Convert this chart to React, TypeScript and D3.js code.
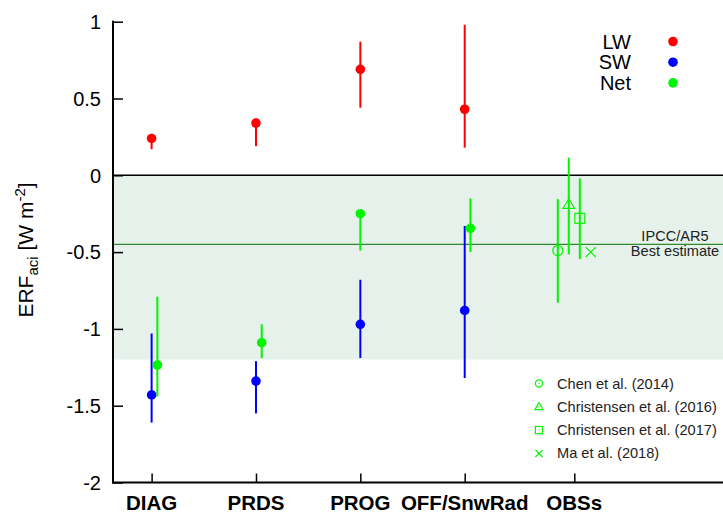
import React, { useEffect, useRef } from 'react'
import * as d3 from 'd3'

// categories on the x axis (OBSs sits slightly to the right)
const categories = ['DIAG', 'PRDS', 'PROG', 'OFF/SnwRad', 'OBSs']
const catPos = [1, 2, 3, 4, 5.05]

// model estimates: LW, SW, Net with their ranges
const lw = [0.24, 0.34, 0.69, 0.43]
const lwLo = [0.17, 0.19, 0.44, 0.18]
const lwHi = [0.27, 0.37, 0.87, 0.98]
const sw = [-1.43, -1.34, -0.97, -0.88]
const swLo = [-1.61, -1.55, -1.19, -1.32]
const swHi = [-1.03, -1.21, -0.68, -0.33]
const net = [-1.235, -1.09, -0.25, -0.345]
const netLo = [-1.44, -1.19, -0.49, -0.5]
const netHi = [-0.79, -0.97, -0.23, -0.15]
const netShift = [0.055, 0.055, 0, 0.055]

// observational estimates
const obsNames = ['Chen et al. (2014)', 'Christensen et al. (2016)', 'Christensen et al. (2017)', 'Ma et al. (2018)']
const obsVal = [-0.49, -0.19, -0.28, -0.5]
const obsLo = [-0.83, -0.515, -0.545, null]
const obsHi = [-0.155, 0.115, -0.02, null]
const obsSym = ['circle', 'triangle', 'square', 'cross']
const obsShift = [-0.158, -0.053, 0.053, 0.158]

const yTicks = [1, 0.5, 0, -0.5, -1, -1.5, -2]
const ipccBest = -0.45
const ipccRange = [-1.2, 0]

const font = 'Liberation Sans, Arial, Helvetica, sans-serif'
const green = '#00f500'

function drawSymbol(g: any, type: string, cx: number, cy: number, s: number, color: string) {
  if (type === 'circle') {
    g.append('circle').attr('cx', cx).attr('cy', cy).attr('r', s).attr('fill', 'none').attr('stroke', color).attr('stroke-width', 1.2)
  } else if (type === 'triangle') {
    const h = s * 1.9
    g.append('path')
      .attr('d', `M${cx},${cy - h * 0.6}L${cx + s * 1.15},${cy + h * 0.4}L${cx - s * 1.15},${cy + h * 0.4}Z`)
      .attr('fill', 'none').attr('stroke', color).attr('stroke-width', 1.2)
  } else if (type === 'square') {
    g.append('rect').attr('x', cx - s).attr('y', cy - s).attr('width', 2 * s).attr('height', 2 * s)
      .attr('fill', 'none').attr('stroke', color).attr('stroke-width', 1.2)
  } else {
    g.append('path')
      .attr('d', `M${cx - s},${cy - s}L${cx + s},${cy + s}M${cx - s},${cy + s}L${cx + s},${cy - s}`)
      .attr('stroke', color).attr('stroke-width', 1.2)
  }
  if (type !== 'cross') {
    g.append('circle').attr('cx', cx).attr('cy', cy).attr('r', 0.7).attr('fill', color)
  }
}

export default function App() {
  const ref = useRef<SVGSVGElement>(null)

  useEffect(() => {
    const svg = d3.select(ref.current)
    svg.selectAll('*').remove()

    const x = d3.scaleLinear().domain([0.63, 6.475]).range([113, 723])
    const y = d3.scaleLinear().domain([-2, 1]).range([482.5, 21.7])

    // IPCC AR5 range shading
    svg.append('rect')
      .attr('x', x(0.63)).attr('width', x(6.475) - x(0.63))
      .attr('y', y(ipccRange[1])).attr('height', y(ipccRange[0]) - y(ipccRange[1]))
      .attr('fill', '#e7f1ec')

    // zero line + best estimate
    svg.append('line').attr('x1', 113).attr('x2', 723).attr('y1', y(0)).attr('y2', y(0))
      .attr('stroke', '#000').attr('stroke-width', 1.5)
    svg.append('line').attr('x1', 113).attr('x2', 723).attr('y1', y(ipccBest)).attr('y2', y(ipccBest))
      .attr('stroke', '#2f8a2f').attr('stroke-width', 1.3)

    svg.append('text').attr('x', 675).attr('y', y(ipccBest) - 3.5).attr('text-anchor', 'middle')
      .attr('font-family', font).attr('font-size', 14.6).attr('fill', '#222').text('IPCC/AR5')
    svg.append('text').attr('x', 675).attr('y', y(ipccBest) + 12).attr('text-anchor', 'middle')
      .attr('font-family', font).attr('font-size', 14.6).attr('fill', '#222').text('Best estimate')

    // left axis: ticks point inwards
    const yAxisG = svg.append('g').attr('transform', `translate(113,0)`)
    yAxisG.call(d3.axisRight(y).tickValues(d3.range(-2, 1.001, 0.1)).tickSize(5).tickFormat(() => '') as any)
    yAxisG.call(d3.axisRight(y).tickValues(yTicks).tickSize(10).tickFormat(() => '') as any)
    yAxisG.selectAll('.domain').remove()
    yAxisG.selectAll('line').attr('stroke', '#000').attr('stroke-width', 1.5)
    svg.append('line').attr('x1', 113).attr('x2', 113).attr('y1', y(1) - 1).attr('y2', y(-2) + 1)
      .attr('stroke', '#000').attr('stroke-width', 2)

    svg.append('g').selectAll('text').data(yTicks).enter().append('text')
      .attr('x', 101).attr('y', d => y(d)).attr('dy', '0.36em').attr('text-anchor', 'end')
      .attr('font-family', font).attr('font-size', 20).attr('fill', '#000')
      .text(d => String(d))

    // bottom axis
    const xAxisG = svg.append('g').attr('transform', `translate(0,${y(-2)})`)
    xAxisG.call(d3.axisTop(x).tickValues(catPos).tickSize(9).tickFormat(() => '') as any)
    xAxisG.selectAll('.domain').remove()
    xAxisG.selectAll('line').attr('stroke', '#000').attr('stroke-width', 1.5)
    svg.append('line').attr('x1', 112).attr('x2', 723).attr('y1', y(-2)).attr('y2', y(-2))
      .attr('stroke', '#000').attr('stroke-width', 2)

    svg.append('g').selectAll('text').data(categories).enter().append('text')
      .attr('x', (d, i) => x(catPos[i])).attr('y', 510).attr('text-anchor', 'middle')
      .attr('font-family', font).attr('font-size', 20.5).attr('font-weight', 'bold').attr('fill', '#000')
      .text(d => d)

    // y label
    const yl = svg.append('text').attr('transform', 'translate(33,250) rotate(-90)')
      .attr('text-anchor', 'middle').attr('font-family', font).attr('font-size', 21).attr('fill', '#000')
    yl.append('tspan').text('ERF')
    yl.append('tspan').attr('font-size', 15).attr('dy', 5).text('aci')
    yl.append('tspan').attr('dy', -5).text(' [W m')
    yl.append('tspan').attr('font-size', 15).attr('dy', -8).text('-2')
    yl.append('tspan').attr('dy', 8).text(']')

    // model series
    const series = [
      { v: lw, lo: lwLo, hi: lwHi, color: '#ff0000', shift: [0, 0, 0, 0] },
      { v: sw, lo: swLo, hi: swHi, color: '#0000ff', shift: [0, 0, 0, 0] },
      { v: net, lo: netLo, hi: netHi, color: green, shift: netShift }
    ]
    series.forEach(s => {
      const g = svg.append('g')
      s.v.forEach((v, i) => {
        const cx = x(catPos[i] + s.shift[i])
        g.append('line').attr('x1', cx).attr('x2', cx).attr('y1', y(s.lo[i])).attr('y2', y(s.hi[i]))
          .attr('stroke', s.color).attr('stroke-width', 2)
        g.append('circle').attr('cx', cx).attr('cy', y(v)).attr('r', 4.8).attr('fill', s.color)
      })
    })

    // observations
    const og = svg.append('g')
    obsVal.forEach((v, i) => {
      const cx = x(catPos[4] + obsShift[i])
      if (obsLo[i] !== null) {
        og.append('line').attr('x1', cx).attr('x2', cx).attr('y1', y(obsLo[i] as number)).attr('y2', y(obsHi[i] as number))
          .attr('stroke', green).attr('stroke-width', 2)
      }
      drawSymbol(og, obsSym[i], cx, y(v), 5, green)
    })

    // legend top right
    const leg = [
      { name: 'LW', color: '#ff0000' },
      { name: 'SW', color: '#0000ff' },
      { name: 'Net', color: green }
    ]
    leg.forEach((l, i) => {
      svg.append('text').attr('x', 631).attr('y', 48.5 + i * 20.7).attr('text-anchor', 'end')
        .attr('font-family', font).attr('font-size', 20).attr('fill', '#000').text(l.name)
      svg.append('circle').attr('cx', 673).attr('cy', 41.5 + i * 20.7).attr('r', 4.8).attr('fill', l.color)
    })

    // observation legend
    obsNames.forEach((n, i) => {
      const cy = 383.5 + i * 23.3
      drawSymbol(svg, obsSym[i], 539, cy, 3.6, green)
      svg.append('text').attr('x', 557).attr('y', cy + 5)
        .attr('font-family', font).attr('font-size', 14.6).attr('fill', '#222').text(n)
    })
  }, [])

  return (
    <svg ref={ref} width={723} height={513} style={{ position: 'absolute', left: 0, top: 0, background: '#fff' }} />
  )
}
